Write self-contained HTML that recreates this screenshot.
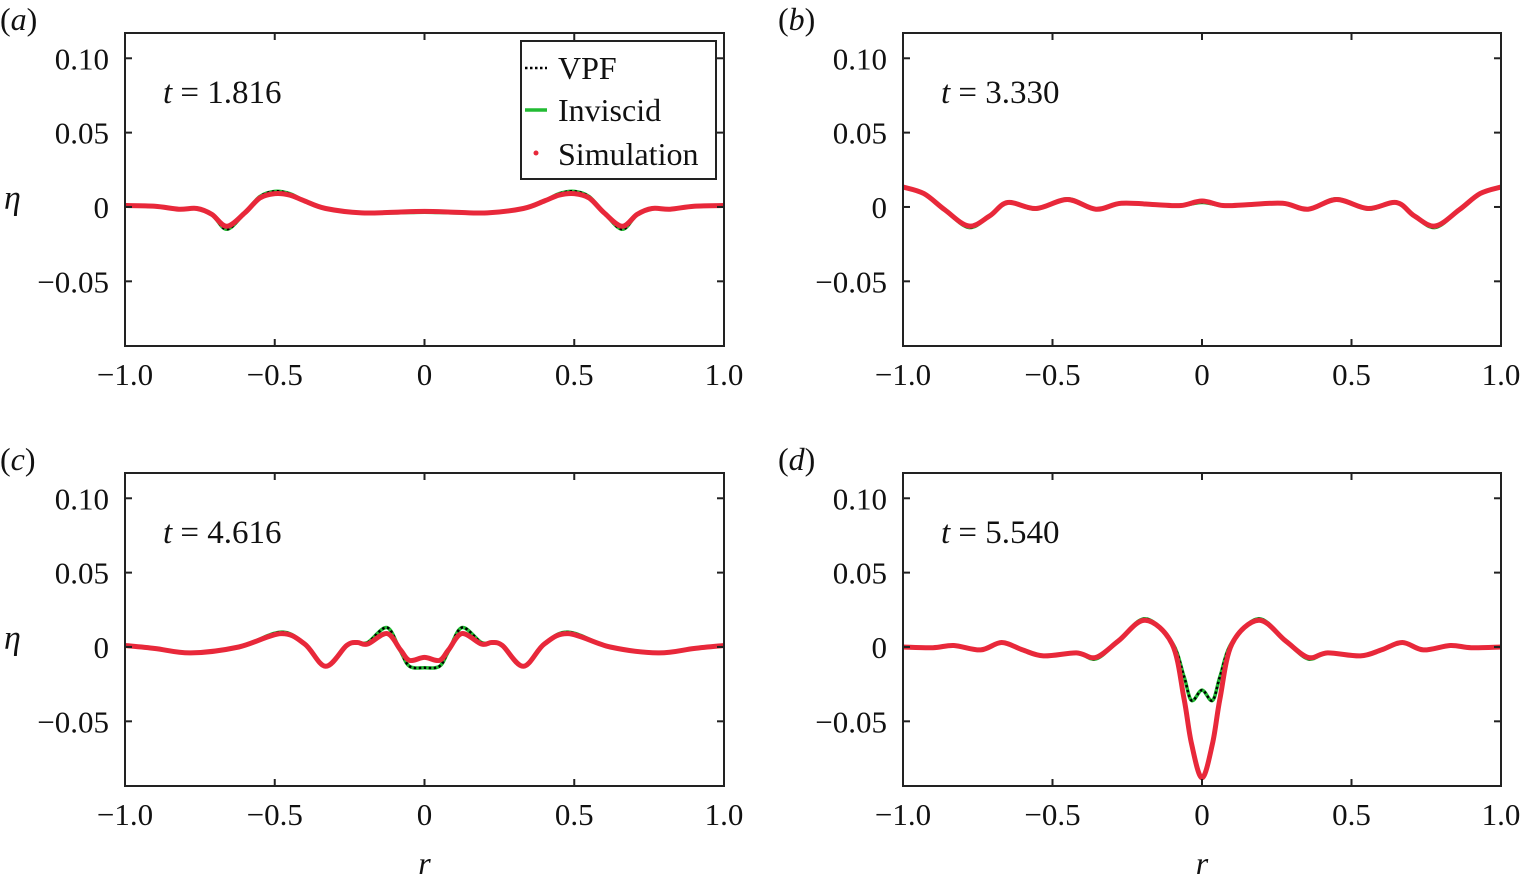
<!DOCTYPE html>
<html><head><meta charset="utf-8"><style>
html,body{margin:0;padding:0;background:#fff;}
svg{display:block;font-family:"Liberation Serif",serif;}
</style></head><body>
<svg id="chart" width="1523" height="886" viewBox="0 0 1523 886"></svg>
<script>
// ---- data ----
const xTicks = [-1.0, -0.5, 0, 0.5, 1.0];
const xTickLabels = ["\u22121.0", "\u22120.5", "0", "0.5", "1.0"];
const yTicks = [0.10, 0.05, 0, -0.05];
const yTickLabels = ["0.10", "0.05", "0", "\u22120.05"];
const panelLetters = ["a", "b", "c", "d"];
const panelTimes = ["1.816", "3.330", "4.616", "5.540"];

// half profiles r in [-1,0]; mirrored for r>0
const rA = [-1, -0.9, -0.82, -0.76, -0.71, -0.66, -0.6, -0.55, -0.5, -0.45, -0.4, -0.33, -0.21, -0.1, 0];
const simA = [0.001, 0.0005, -0.0015, -0.001, -0.005, -0.013, -0.004, 0.006, 0.009, 0.008, 0.004, -0.001, -0.004, -0.0035, -0.003];
const vpfA = [0.001, 0.0005, -0.0015, -0.001, -0.005, -0.015, -0.004, 0.007, 0.0105, 0.009, 0.004, -0.001, -0.004, -0.004, -0.0035];

const rB = [-1, -0.93, -0.86, -0.78, -0.71, -0.65, -0.555, -0.45, -0.355, -0.27, -0.15, -0.07, 0];
const simB = [0.0134, 0.009, -0.002, -0.0128, -0.006, 0.003, -0.001, 0.005, -0.0015, 0.0025, 0.0015, 0.001, 0.004];
const vpfB = [0.0138, 0.009, -0.002, -0.0138, -0.006, 0.003, -0.0015, 0.0055, -0.0015, 0.0025, 0.0015, 0.001, 0.003];

const rC = [-1, -0.9, -0.78, -0.62, -0.48, -0.4, -0.33, -0.26, -0.225, -0.19, -0.125, -0.08, -0.05, 0];
const simC = [0.001, -0.001, -0.004, 0.0, 0.009, 0.002, -0.013, 0.001, 0.003, 0.002, 0.009, -0.002, -0.009, -0.007];
const vpfC = [0.001, -0.001, -0.004, 0.0, 0.01, 0.002, -0.013, 0.001, 0.003, 0.003, 0.013, -0.003, -0.013, -0.014];

const rD = [-1, -0.9, -0.83, -0.74, -0.67, -0.6, -0.53, -0.42, -0.355, -0.28, -0.19, -0.1, -0.06, -0.035, 0];
const simD = [0, -0.0005, 0.001, -0.002, 0.003, -0.002, -0.006, -0.004, -0.007, 0.004, 0.018, 0.002, -0.035, -0.065, -0.088];
const vpfD = [0, -0.0005, 0.001, -0.002, 0.003, -0.002, -0.006, -0.004, -0.008, 0.004, 0.019, 0.003, -0.02, -0.036, -0.029];

const halfR = [rA, rB, rC, rD];
const halfSim = [simA, simB, simC, simD];
const halfVpf = [vpfA, vpfB, vpfC, vpfD];

// ---- layout ----
const NS = "http://www.w3.org/2000/svg";
const svg = document.getElementById("chart");
const panels = [
  {x0:125, x1:724, y0:33, y1:346},
  {x0:903, x1:1501, y0:33, y1:346},
  {x0:125, x1:724, y0:473, y1:786},
  {x0:903, x1:1501, y0:473, y1:786}
];
const YMAX = 0.117, YMIN = -0.0935;

function el(tag, attrs, parent){
  const e = document.createElementNS(NS, tag);
  for (const k in attrs) e.setAttribute(k, attrs[k]);
  (parent||svg).appendChild(e);
  return e;
}
function mirror(r, v){
  const R = r.slice(), V = v.slice();
  for (let i = r.length-2; i >= 0; i--){ R.push(-r[i]); V.push(v[i]); }
  return [R, V];
}
function pathFrom(R, V, sx, sy){
  const P = R.map((r,i)=>[sx(r), sy(V[i])]);
  let d = "M"+P[0][0].toFixed(1)+","+P[0][1].toFixed(1);
  for (let i=0;i<P.length-1;i++){
    const p0=P[Math.max(i-1,0)], p1=P[i], p2=P[i+1], p3=P[Math.min(i+2,P.length-1)];
    const c1=[p1[0]+(p2[0]-p0[0])/6, p1[1]+(p2[1]-p0[1])/6];
    const c2=[p2[0]-(p3[0]-p1[0])/6, p2[1]-(p3[1]-p1[1])/6];
    d += " C"+c1[0].toFixed(1)+","+c1[1].toFixed(1)+" "+c2[0].toFixed(1)+","+c2[1].toFixed(1)+" "+p2[0].toFixed(1)+","+p2[1].toFixed(1);
  }
  return d;
}

panels.forEach((p, k)=>{
  const sx = r => p.x0 + (r+1)/2*(p.x1-p.x0);
  const sy = v => p.y0 + (YMAX-v)/(YMAX-YMIN)*(p.y1-p.y0);
  const g = el("g", {});
  
  

  const clipId = "clip"+k;
  const cp = el("clipPath", {id:clipId}, g);
  el("rect", {x:p.x0, y:p.y0, width:p.x1-p.x0, height:p.y1-p.y0}, cp);

  const [R, S] = mirror(halfR[k], halfSim[k]);
  const [R2, Vv] = mirror(halfR[k], halfVpf[k]);
  const cg = el("g", {"clip-path":"url(#"+clipId+")"}, g);
  const inv = el("path", {d:pathFrom(R2,Vv,sx,sy), fill:"none", stroke:"#22bb33", "stroke-width":3.5}, cg);
  
  
  const vpf = el("path", {d:pathFrom(R2,Vv,sx,sy), fill:"none", stroke:"#000", "stroke-width":2.5, "stroke-dasharray":"2.5 2.5"}, cg);
  
  
  const sim = el("path", {d:pathFrom(R,S,sx,sy), fill:"none", stroke:"#e8283a", "stroke-width":5, "stroke-linecap":"round"}, cg);
  
  

  const box = el("rect", {x:p.x0, y:p.y0, width:p.x1-p.x0, height:p.y1-p.y0, fill:"none", stroke:"#222", "stroke-width":2}, g);
  
  

  xTicks.forEach((t,i)=>{
    const x = sx(t);
    el("line",{x1:x,x2:x,y1:p.y1,y2:p.y1-7,stroke:"#222","stroke-width":2},g);
    el("line",{x1:x,x2:x,y1:p.y0,y2:p.y0+7,stroke:"#222","stroke-width":2},g);
    const tx = el("text",{x:x,y:p.y1+39,"text-anchor":"middle","font-size":31,fill:"#111"},g);
    tx.textContent = xTickLabels[i];
    
    
  });
  yTicks.forEach((t,i)=>{
    const y = sy(t);
    el("line",{x1:p.x0,x2:p.x0+7,y1:y,y2:y,stroke:"#222","stroke-width":2},g);
    el("line",{x1:p.x1,x2:p.x1-7,y1:y,y2:y,stroke:"#222","stroke-width":2},g);
    const ty = el("text",{x:p.x0-16,y:y+11,"text-anchor":"end","font-size":31,fill:"#111"},g);
    ty.textContent = yTickLabels[i];
    
    
  });

  const lab = el("text",{x:p.x0-125,y:p.y0-3,"font-size":32,fill:"#111"},g);
  lab.innerHTML = '(<tspan font-style="italic">'+panelLetters[k]+'</tspan>)';
  
  

  const tt = el("text",{x:p.x0+38,y:p.y0+70,"font-size":33,fill:"#111"},g);
  tt.innerHTML = '<tspan font-style="italic">t</tspan> = '+panelTimes[k];
  
  

  if (k % 2 === 0){
    const eta = el("text",{x:p.x0-121,y:sy(0)+2,"font-size":34,"font-style":"italic",fill:"#111"},g);
    eta.textContent = "\u03b7";
    
    
  }
  if (k >= 2){
    const rl = el("text",{x:sx(0),y:874,"text-anchor":"middle","font-size":32,"font-style":"italic",fill:"#111"},g);
    rl.textContent = "r";
    
    
  }
});

// legend
const lg = el("g", {});


el("rect",{x:521,y:41,width:195,height:138,fill:"#fff",stroke:"#222","stroke-width":2},lg);
el("line",{x1:525,x2:547,y1:68,y2:68,stroke:"#000","stroke-width":2.5,"stroke-dasharray":"2.5 2.5"},lg);
el("line",{x1:525,x2:547,y1:110,y2:110,stroke:"#22bb33","stroke-width":3.5},lg);
el("circle",{cx:536,cy:153,r:2.5,fill:"#e8283a"},lg);
[["VPF",79,"legend-entry-vpf"],["Inviscid",121,"legend-entry-inviscid"],["Simulation",165,"legend-entry-simulation"]].forEach(e=>{
  const t = el("text",{x:558,y:e[1],"font-size":32,fill:"#111"},lg);
  t.textContent = e[0];
  
  
});
</script>
</body></html>
